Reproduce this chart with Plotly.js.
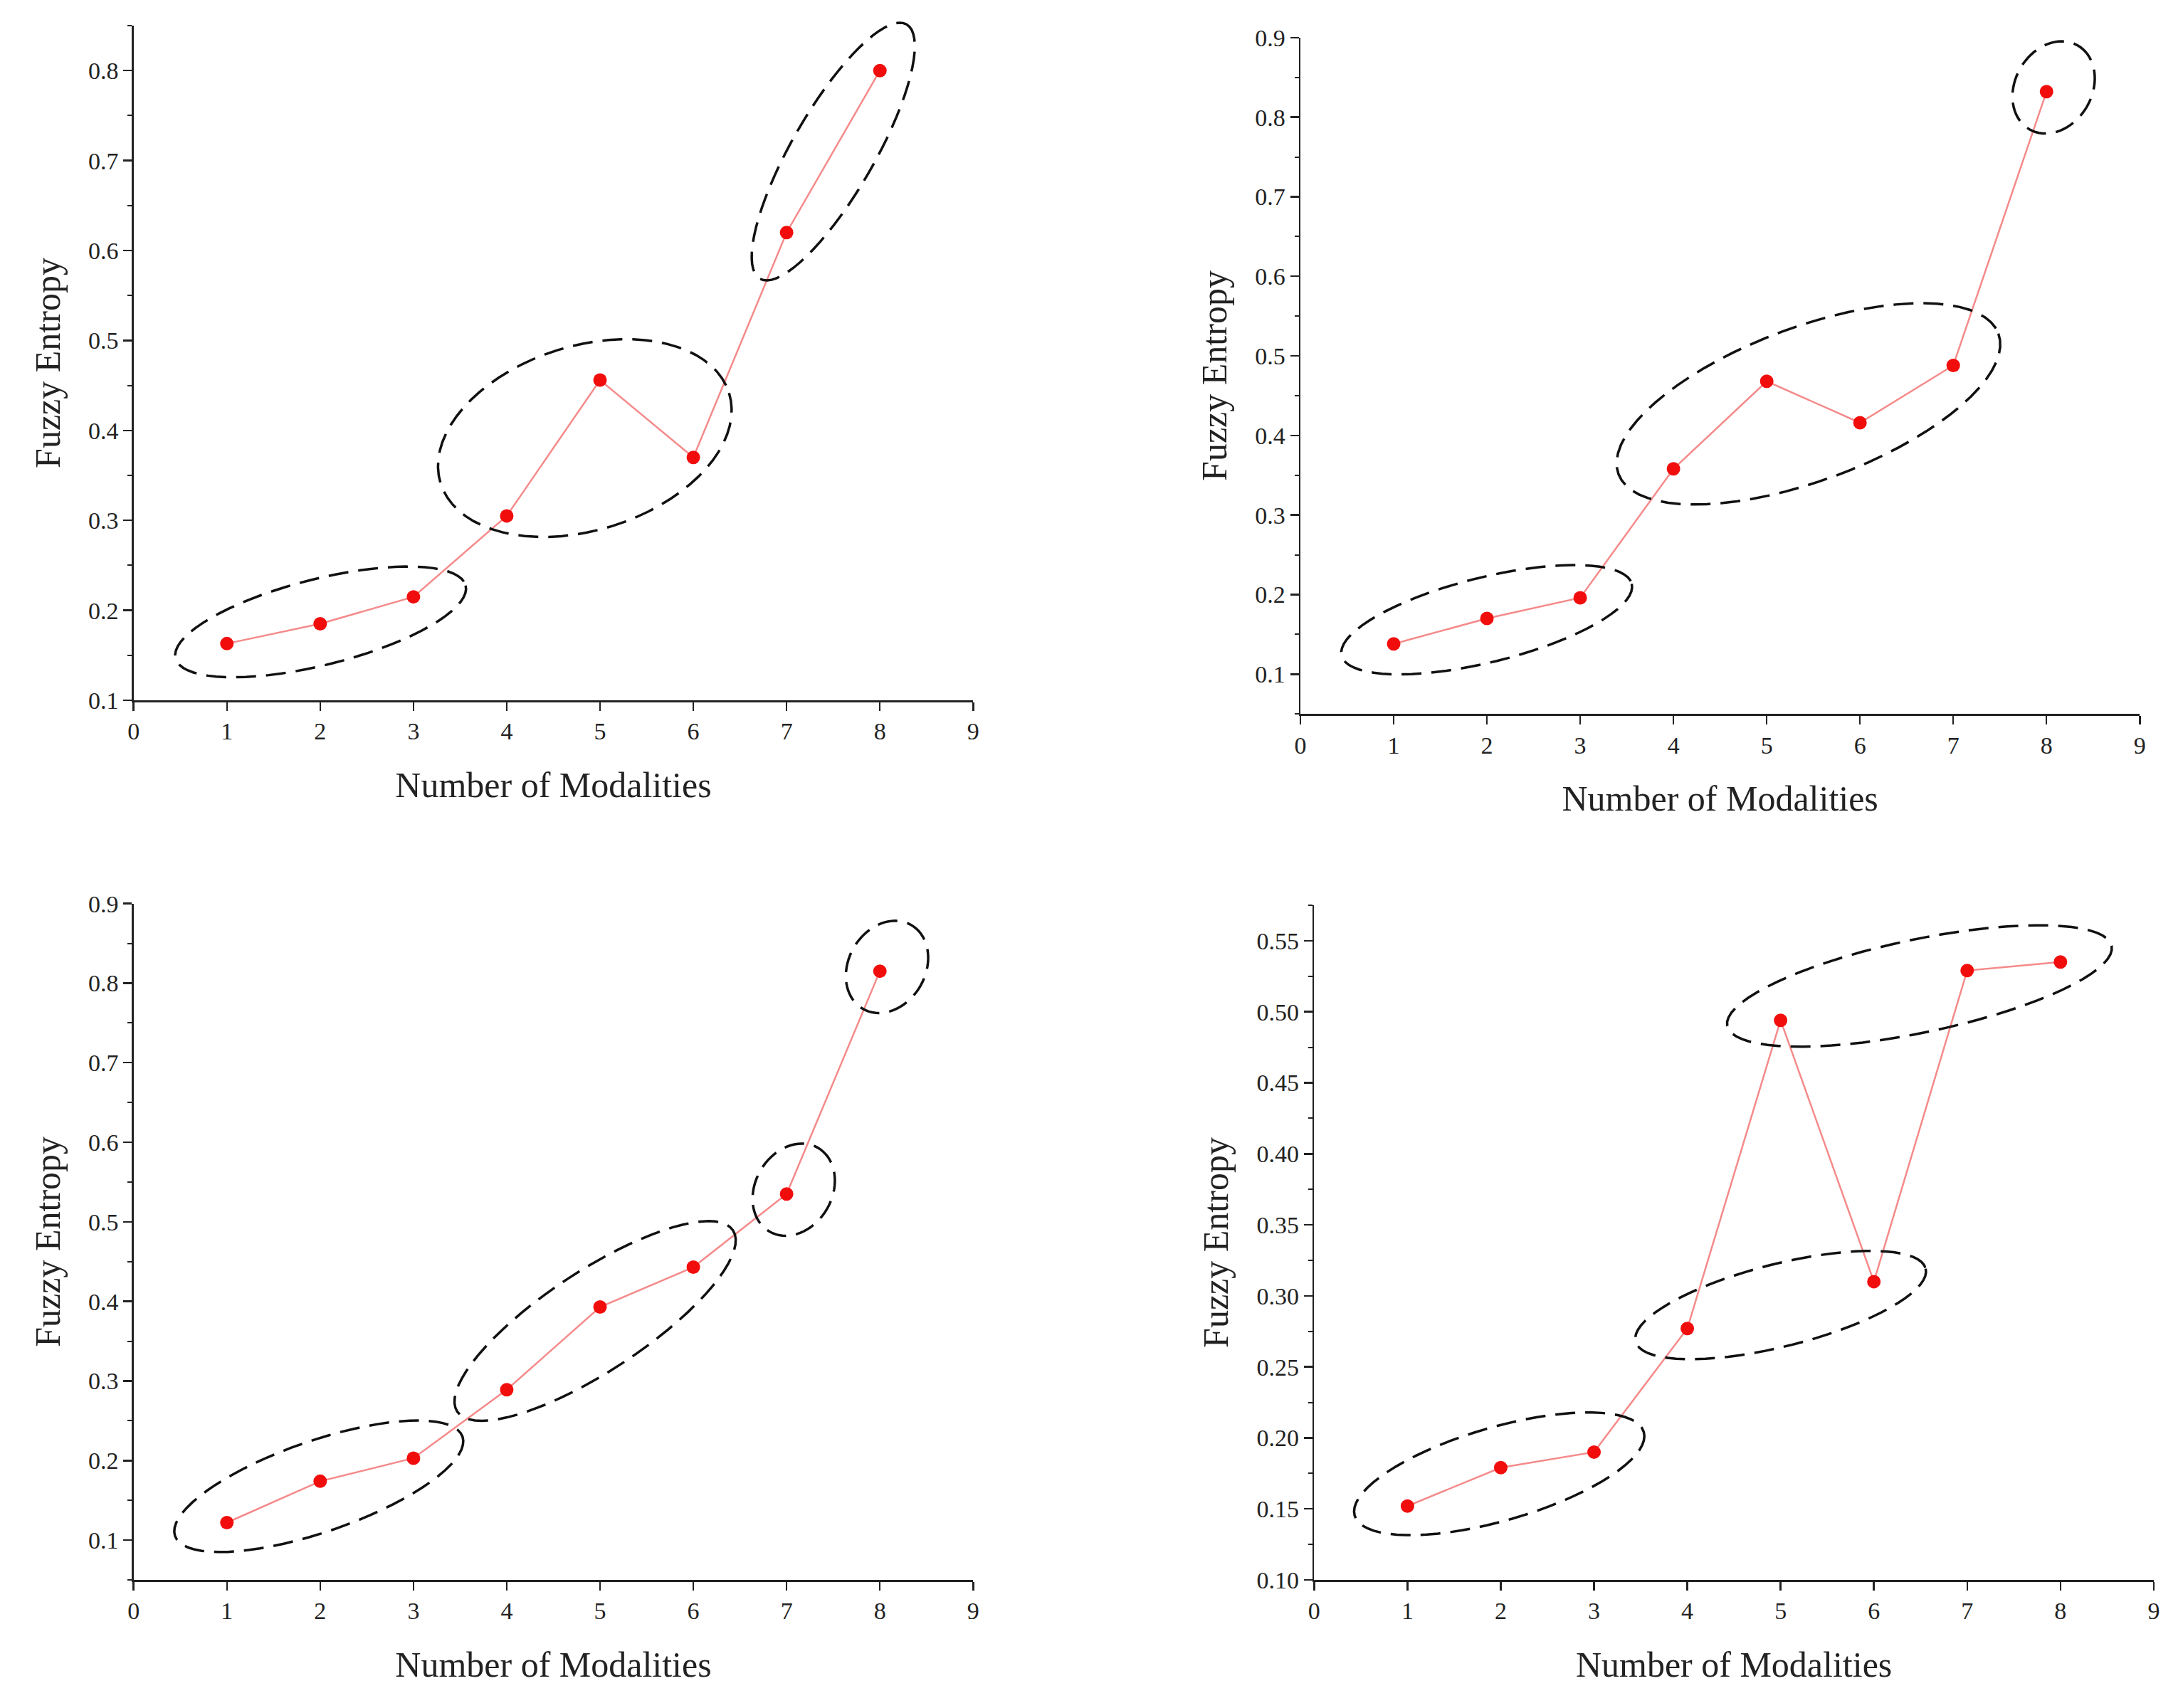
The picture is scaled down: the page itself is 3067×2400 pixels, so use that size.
<!DOCTYPE html>
<html><head><meta charset="utf-8">
<script src="https://cdn.plot.ly/plotly-3.0.1.min.js"></script>
<style>body{margin:0}#c{width:3067px;height:2400px}</style>
</head><body><div id="c"></div>
<script>
const modalities=[1,2,3,4,5,6,7,8];
const entropyA=[0.163,0.185,0.215,0.305,0.456,0.370,0.620,0.800];
const entropyB=[0.138,0.170,0.196,0.358,0.468,0.416,0.488,0.832];
const entropyC=[0.122,0.174,0.203,0.289,0.393,0.443,0.535,0.815];
const entropyD=[0.152,0.179,0.190,0.277,0.494,0.310,0.529,0.535];
const groupsA=[[0,1,2],[3,4,5],[6,7]];
const groupsB=[[0,1,2],[3,4,5,6],[7]];
const groupsC=[[0,1,2],[3,4,5],[6],[7]];
const groupsD=[[0,1,2],[3,5],[4,6,7]];

const W=3067,H=2400;
const panels=[
 {y:entropyA,g:groupsA,dx:[0.0612,0.4458],dy:[0.590,0.985],yr:[0.1,0.85],dt:0.1,fmt:'.1f'},
 {y:entropyB,g:groupsB,dx:[0.5957,0.9802],dy:[0.582,0.978],yr:[0.05,0.9],dt:0.1,fmt:'.1f'},
 {y:entropyC,g:groupsC,dx:[0.0612,0.4458],dy:[0.075,0.471],yr:[0.05,0.9],dt:0.1,fmt:'.1f'},
 {y:entropyD,g:groupsD,dx:[0.602,0.9866],dy:[0.075,0.470],yr:[0.1,0.575],dt:0.05,fmt:'.2f'}
];
const font={family:'Liberation Serif, Times New Roman, serif',color:'#222'};
const data=[],shapes=[],layout={width:W,height:H,margin:{l:0,r:0,t:0,b:0},showlegend:false,
 paper_bgcolor:'#fff',plot_bgcolor:'#fff',font:font};
panels.forEach((p,i)=>{
 const n=i+1,xs='x'+(i?n:''),ys='y'+(i?n:'');
 data.push({x:modalities,y:p.y,xaxis:xs,yaxis:ys,mode:'lines+markers',
  line:{color:'#f58a8a',width:2.5},marker:{color:'#f20d0d',size:19}});
 const ax={domain:p.dx,range:[0,9],dtick:1,tick0:0,showline:true,linecolor:'#222',linewidth:2.5,
  ticks:'outside',ticklen:12,tickwidth:2.5,tickcolor:'#222',showgrid:false,zeroline:false,
  tickfont:{size:34,...font},anchor:ys,
  title:{text:'Number of Modalities',font:{size:50,...font},standoff:40}};
 const ay={domain:p.dy,range:p.yr,dtick:p.dt,tick0:0,tickformat:p.fmt,showline:true,linecolor:'#222',linewidth:2.5,
  ticks:'outside',ticklen:12,tickwidth:2.5,tickcolor:'#222',showgrid:false,zeroline:false,
  minor:{dtick:p.dt/2,ticks:'outside',ticklen:6,tickwidth:2,tickcolor:'#222',showgrid:false},
  tickfont:{size:34,...font},anchor:xs,
  title:{text:'Fuzzy Entropy',font:{size:50,...font},standoff:24}};
 layout['xaxis'+(i?n:'')]=ax; layout['yaxis'+(i?n:'')]=ay;
 const px=x=>(p.dx[0]+x/9*(p.dx[1]-p.dx[0]))*W;
 const py=y=>(1-(p.dy[0]+(y-p.yr[0])/(p.yr[1]-p.yr[0])*(p.dy[1]-p.dy[0])))*H;
 p.g.forEach(idx=>{
  const pts=idx.map(k=>[px(modalities[k]),py(p.y[k])]);
  let cx,cy,ang,ra,rb;
  if(pts.length===1){cx=pts[0][0]+10;cy=pts[0][1]-6;ang=-Math.PI/3;ra=68;rb=54;}
  else{
   const dx=pts[pts.length-1][0]-pts[0][0],dy=pts[pts.length-1][1]-pts[0][1];
   ang=Math.atan2(dy,dx);const c=Math.cos(ang),s=Math.sin(ang);
   let mn=1e9,mx=-1e9,pm=1e9,pM=-1e9;
   pts.forEach(q=>{const u=q[0]*c+q[1]*s,v=-q[0]*s+q[1]*c;mn=Math.min(mn,u);mx=Math.max(mx,u);pm=Math.min(pm,v);pM=Math.max(pM,v);});
   const uc=(mn+mx)/2,vc=(pm+pM)/2;cx=uc*c-vc*s;cy=uc*s+vc*c;
   ra=(mx-mn)/2+75;rb=(pM-pm)/2+58;
  }
  let d='';
  for(let t=0;t<=72;t++){const th=t/72*2*Math.PI;
   const ex=cx+ra*Math.cos(th)*Math.cos(ang)-rb*Math.sin(th)*Math.sin(ang);
   const ey=cy+ra*Math.cos(th)*Math.sin(ang)+rb*Math.sin(th)*Math.cos(ang);
   d+=(t?'L':'M')+(ex/W).toFixed(5)+','+(1-ey/H).toFixed(5);}
  shapes.push({type:'path',xref:'paper',yref:'paper',path:d+'Z',line:{color:'#111',width:3.5,dash:'28px,14px'}});
 });
});
layout.shapes=shapes;
Plotly.newPlot('c',data,layout,{staticPlot:true});
</script></body></html>
